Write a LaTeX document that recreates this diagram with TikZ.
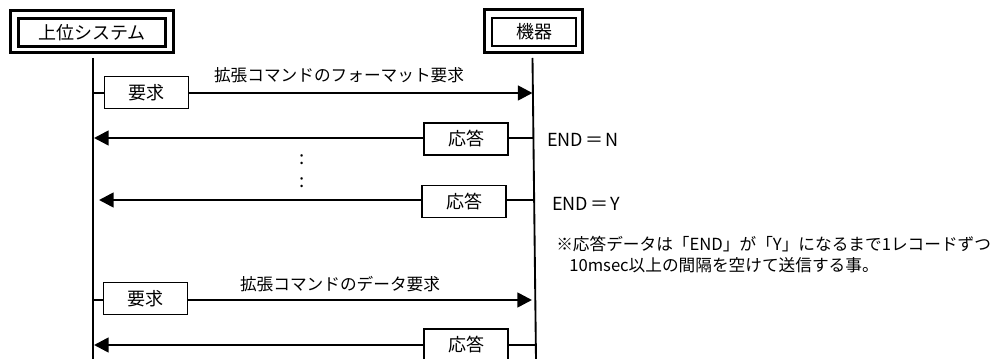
\documentclass[tikz,border=0pt]{standalone}
\usepackage{fontspec}
\setmainfont{Noto Sans CJK JP}
\usetikzlibrary{arrows.meta,calc}
\begin{document}
\begin{tikzpicture}[x=0.75pt,y=-0.75pt,
  every node/.style={font=\fontsize{12.5pt}{15pt}\selectfont, inner sep=0pt},
  big/.style={font=\fontsize{13.5pt}{16pt}\selectfont},
  inbox/.style={draw, line width=1.9pt, minimum width=#1, big},
  outbox/.style={draw, line width=2.3pt},
  msgbox/.style={draw, line width=1.4pt, minimum width=63pt, minimum height=24pt, big},
  life/.style={line width=1.4pt},
  msg/.style={line width=2pt},
  arr/.style={msg, -{Triangle[length=11pt,width=11pt]}},
  dotlbl/.style={font=\fontsize{14pt}{14pt}\selectfont},
  lbl/.style={anchor=center}]
\useasboundingbox (0,0) rectangle (1002,359);
% header boxes
\node[inbox=110.25pt, minimum height=21pt] (sys) at (92,32.5) {上位システム};
\draw[outbox] ($(sys.north west)+(-7,-7)$) rectangle ($(sys.south east)+(7,5)$);
\node[inbox=63pt, minimum height=21pt] (dev) at (534,32) {機器};
\draw[outbox] ($(dev.north west)+(-6,-7.5)$) rectangle ($(dev.south east)+(5,5.5)$);
% lifelines
\coordinate (L0) at (93,58);
\coordinate (L1) at (93,360);
\coordinate (R0) at (532.5,58);
\coordinate (R1) at (536,360);
\draw[life] (L0) -- (L1);
\draw[life] (R0) -- (R1);
% points on lifelines
\coordinate (La) at (93,93);
\coordinate (Lb) at (94,138);
\coordinate (Lc) at (99,200);
\coordinate (Ld) at (93,300);
\coordinate (Le) at (94,345);
\coordinate (Ra) at (532.5,93);
\coordinate (Rb) at (533.4,138);
\coordinate (Rc) at (534.4,200);
\coordinate (Rd) at (532,300);
\coordinate (Re) at (534.5,345);
% request 1
\node[msgbox] (req1) at (146.5,92.5) {要求};
\draw[msg] (La) -- (req1.west |- La);
\draw[arr] (req1.east |- Ra) -- (Ra);
\node[lbl] (t1) at (339,75) {拡張コマンドのフォーマット要求};
% response 1
\node[msgbox] (res1) at (466,139) {応答};
\draw[msg] (Rb) -- (res1.east |- Rb);
\draw[arr] (res1.west |- Lb) -- (Lb);
\node[anchor=west, big] (e1) at (547,140) {END\kern2pt＝\kern1ptN};
% dots
\node[dotlbl] (d1) at (302,160) {:};
\node[dotlbl] (d2) at (302,183) {:};
% response 2
\node[msgbox] (res2) at (464,201.5) {応答};
\draw[msg] (Rc) -- (res2.east |- Rc);
\draw[arr] (res2.west |- Lc) -- (Lc);
\node[anchor=west, big] (e2) at (552,204) {END\kern2pt＝\kern1ptY};
% note
\node[anchor=west] (n1) at (556,244) {※応答データは「END」が「Y」になるまで1レコードずつ};
\node[anchor=west] (n2) at (569,265) {10msec以上の間隔を空けて送信する事。};
% request 2
\node[msgbox] (req2) at (145.5,298.5) {要求};
\draw[msg] (Ld) -- (req2.west |- Ld);
\draw[arr] (req2.east |- Rd) -- (Rd);
\node[lbl] (t2) at (340,284) {拡張コマンドのデータ要求};
% response 3
\node[msgbox] (res3) at (466,345) {応答};
\draw[msg] (Re) -- (res3.east |- Re);
\draw[arr] (res3.west |- Le) -- (Le);
\end{tikzpicture}
\end{document}
